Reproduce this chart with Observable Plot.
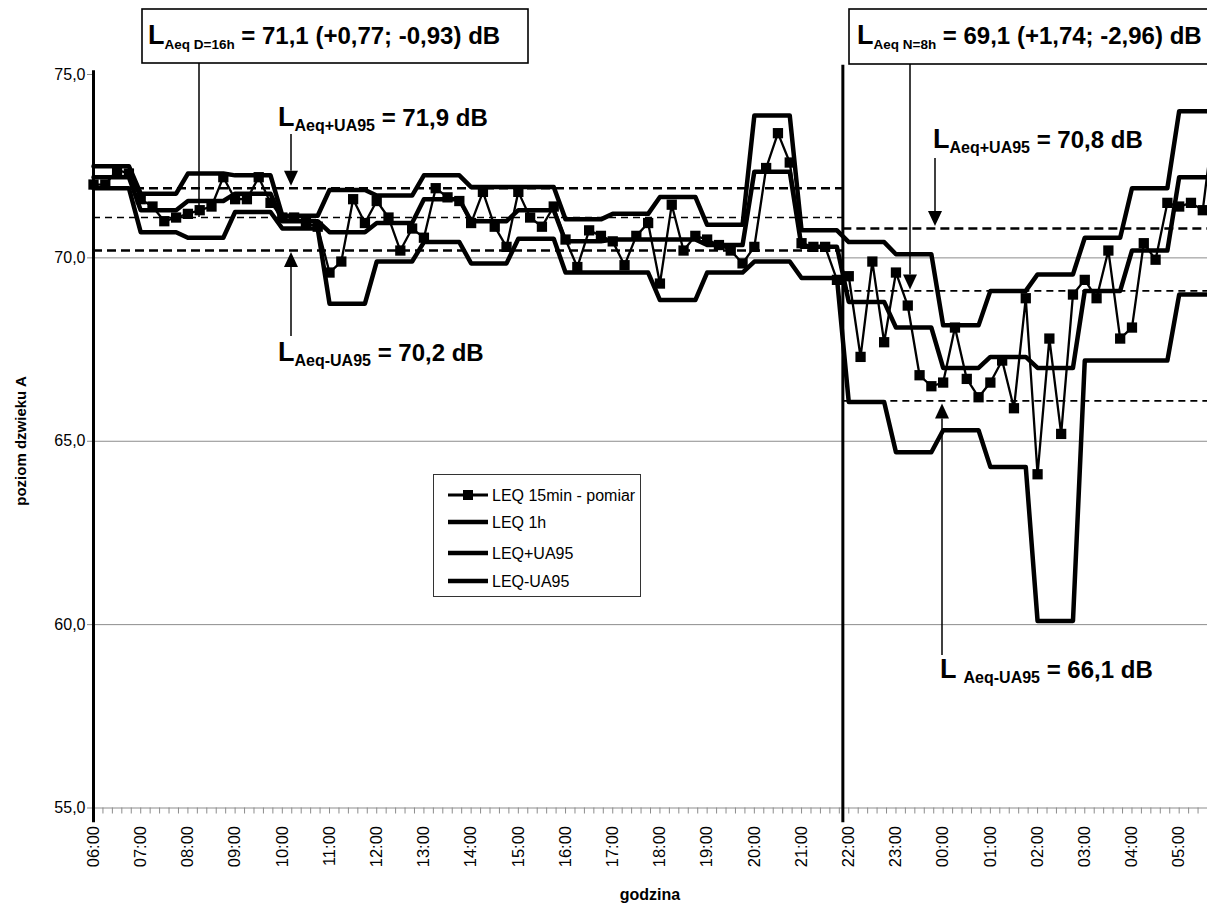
<!DOCTYPE html>
<html>
<head>
<meta charset="utf-8">
<script src="https://cdn.jsdelivr.net/npm/d3@7"></script>
<script src="https://cdn.jsdelivr.net/npm/@observablehq/plot@0.6"></script>
<style>
html, body { margin: 0; padding: 0; background: #fff; overflow: hidden; }
#wrap { width: 1207px; height: 906px; overflow: hidden; }
#wrap svg { display: block; overflow: hidden; }
</style>
</head>
<body>
<div id="wrap"></div>
<script>
// ---------- DATA ----------
// Hour labels of the category axis, starting at 06:00 (hour index 0)
const hourLabels = ["06:00","07:00","08:00","09:00","10:00","11:00","12:00","13:00",
  "14:00","15:00","16:00","17:00","18:00","19:00","20:00","21:00","22:00","23:00",
  "00:00","01:00","02:00","03:00","04:00","05:00"];

// LEQ 15min - pomiar : one value every 15 minutes from 06:00 to 05:45
const leq15 = [
  72.0, 72.0, 72.4, 72.3,    // 06
  71.6, 71.4, 71.0, 71.1,    // 07
  71.2, 71.3, 71.4, 72.2,    // 08
  71.6, 71.6, 72.2, 71.5,    // 09
  71.1, 71.1, 70.95, 70.85,  // 10
  69.6, 69.9, 71.6, 70.95,   // 11
  71.55, 71.1, 70.2, 70.8,   // 12
  70.55, 71.9, 71.65, 71.55, // 13
  70.95, 71.8, 70.85, 70.3,  // 14
  71.8, 71.1, 70.85, 71.4,   // 15
  70.5, 69.75, 70.75, 70.6,  // 16
  70.45, 69.8, 70.6, 70.95,  // 17
  69.3, 71.45, 70.2, 70.6,   // 18
  70.5, 70.35, 70.2, 69.85,  // 19
  70.3, 72.45, 73.4, 72.6,   // 20
  70.4, 70.3, 70.3, 69.4,    // 21
  69.5, 67.3, 69.9, 67.7,    // 22
  69.6, 68.7, 66.8, 66.5,    // 23
  66.6, 68.1, 66.7, 66.2,    // 00
  66.6, 67.2, 65.9, 68.9,    // 01
  64.1, 67.8, 65.2, 69.0,    // 02
  69.4, 68.9, 70.2, 67.8,    // 03
  68.1, 70.4, 69.95, 71.5,   // 04
  71.4, 71.5, 71.3, 73.9     // 05
];

// Hourly series (one value per hour, 06:00 ... 05:00)
const leq1h = [72.2, 71.3, 71.55, 71.75, 71.0, 70.7, 70.95, 71.6, 71.0, 71.3, 70.45, 70.5,
  70.5, 70.35, 72.35, 70.3, 68.8, 68.1, 67.0, 67.3, 67.0, 69.1, 70.2, 72.2];
const leqPlusUA95 = [72.5, 71.75, 72.3, 72.25, 71.15, 71.85, 71.7, 72.25, 71.93, 71.93, 71.05, 71.2,
  71.66, 70.9, 73.88, 70.75, 70.43, 70.1, 68.16, 69.1, 69.55, 70.55, 71.9, 74.0];
const leqMinusUA95 = [71.9, 70.7, 70.55, 71.25, 70.8, 68.75, 69.9, 70.43, 69.85, 70.52, 69.6, 69.6,
  68.85, 69.6, 69.9, 69.45, 66.07, 64.7, 65.3, 64.3, 60.1, 67.2, 67.2, 69.0];

// Period levels (dashed reference lines): [L+UA95, LAeq, L-UA95]
const dayLevels = [71.9, 71.1, 70.2];     // 06:00-22:00
const nightLevels = [70.8, 69.1, 66.1];   // 22:00-06:00
const nightStart = 15.875;                // hours after 06:00: category boundary just before 22:00

// Axis
const yTickValues = [75, 70, 65, 60, 55];
const yTickLabels = ["75,0", "70,0", "65,0", "60,0", "55,0"];
const gridValues = [70, 65, 60];
const visibleHours = 23.6;                // the original chart is cut at the right edge

// ---------- TABLES ----------
const pts15 = leq15.map((v, i) => ({t: i * 0.25, v}));
const stepRows = arr => arr.flatMap((v, h) => [0, 1, 2, 3].map(k => ({t: h + k * 0.25, v})));
const hourTicks = hourLabels.map((_, i) => i);
const minorTicks = d3.range(0, visibleHours + 0.001, 0.2);

const font = "'Liberation Sans', Arial, sans-serif";

const chart = Plot.plot({
  width: 1207,
  height: 906,
  marginLeft: 93,
  marginRight: 0,
  marginTop: 74,
  marginBottom: 98.5,
  x: {domain: [0, visibleHours], axis: null},
  y: {domain: [55, 75], axis: null},
  style: {fontFamily: font, background: "white", overflow: "hidden", color: "black"},
  marks: [
    Plot.ruleY(gridValues, {stroke: "#8c8c8c", strokeWidth: 1}),
    Plot.ruleY([55], {stroke: "#8c8c8c", strokeWidth: 1}),
    Plot.ruleX(minorTicks, {x: d => d, y1: 55, y2: 55, insetBottom: -6, stroke: "#8c8c8c"}),
    Plot.ruleY(yTickValues, {y: d => d, x1: 0, x2: 0, insetLeft: -6, stroke: "#8c8c8c"}),
    Plot.text(yTickValues, {x: 0, y: d => d, text: (d, i) => yTickLabels[i], textAnchor: "end",
      dx: -8, fontSize: 16, fill: "black"}),
    Plot.text(hourTicks, {x: d => d, y: 55, text: (d, i) => hourLabels[i], rotate: -90,
      textAnchor: "end", dy: 18, fontSize: 16.5, fill: "black"}),

    // dashed period levels
    Plot.ruleY([dayLevels[0], dayLevels[2]], {y: d => d, x1: 0, x2: nightStart, stroke: "black",
      strokeWidth: 2.6, strokeDasharray: "9,5"}),
    Plot.ruleY([dayLevels[1]], {y: d => d, x1: 0, x2: nightStart, stroke: "black",
      strokeWidth: 1.6, strokeDasharray: "7,5"}),
    Plot.ruleY([nightLevels[0]], {y: d => d, x1: nightStart, x2: visibleHours, stroke: "black",
      strokeWidth: 2.6, strokeDasharray: "9,5"}),
    Plot.ruleY([nightLevels[1], nightLevels[2]], {y: d => d, x1: nightStart, x2: visibleHours,
      stroke: "black", strokeWidth: 1.6, strokeDasharray: "7,5"}),

    // axis lines (thick), day/night split
    Plot.ruleX([0], {x: d => d, y1: 54.6, y2: 75.1, stroke: "black", strokeWidth: 3}),
    Plot.ruleX([nightStart], {x: d => d, y1: 54.6, y2: 75.25, stroke: "black", strokeWidth: 3}),

    // hourly series
    Plot.line(stepRows(leqMinusUA95), {x: "t", y: "v", stroke: "black", strokeWidth: 4.5, strokeLinejoin: "round"}),
    Plot.line(stepRows(leqPlusUA95), {x: "t", y: "v", stroke: "black", strokeWidth: 4.5, strokeLinejoin: "round"}),
    Plot.line(stepRows(leq1h), {x: "t", y: "v", stroke: "black", strokeWidth: 4.5, strokeLinejoin: "round"}),

    // 15 min measurement
    Plot.line(pts15, {x: "t", y: "v", stroke: "black", strokeWidth: 2.3}),
    Plot.dot(pts15, {x: "t", y: "v", symbol: "square", r: 5.8, fill: "black", stroke: "none"})
  ]
});

document.getElementById("wrap").appendChild(chart);

// ---------- ANNOTATIONS ----------
const sy = chart.scale("y");
const svg = d3.select(chart);
const g = svg.append("g").attr("font-family", font).attr("fill", "black").attr("text-anchor", "start");

function rich(x, baseline, big, sub, rest, sizes) {
  const [sL, sS, sR, dd] = sizes || [27, 16, 24, 5];
  const t = g.append("text").attr("x", x).attr("y", baseline).attr("font-weight", "bold")
    .attr("text-anchor", "start");
  t.append("tspan").attr("font-size", sL).text(big);
  t.append("tspan").attr("font-size", sS).attr("dy", dd).text(sub);
  t.append("tspan").attr("font-size", sR).attr("dy", -dd).text(rest);
  return t;
}
function arrow(x, yStart, yTip) {
  const dir = yTip > yStart ? 1 : -1;
  const h = 15, w = 7;
  g.append("line").attr("x1", x).attr("x2", x).attr("y1", yStart).attr("y2", yTip - dir * h)
    .attr("stroke", "black").attr("stroke-width", 1.5);
  g.append("path").attr("d", `M${x - w},${yTip - dir * h}L${x + w},${yTip - dir * h}L${x},${yTip}Z`)
    .attr("fill", "black");
}

// boxes
g.append("rect").attr("x", 142).attr("y", 9).attr("width", 386).attr("height", 54)
  .attr("fill", "white").attr("stroke", "black").attr("stroke-width", 1.6);
g.append("rect").attr("x", 849).attr("y", 9).attr("width", 400).attr("height", 55)
  .attr("fill", "white").attr("stroke", "black").attr("stroke-width", 1.6);
rich(148, 44, "L", "Aeq D=16h", " = 71,1 (+0,77; -0,93) dB", [27, 13.5, 24, 5]);
rich(857, 44, "L", "Aeq N=8h", " = 69,1 (+1,74; -2,96) dB", [27, 13.5, 24, 5]);

// connectors from boxes
g.append("line").attr("x1", 199).attr("x2", 199).attr("y1", 63).attr("y2", sy.apply(dayLevels[1]))
  .attr("stroke", "black").attr("stroke-width", 1.5);
arrow(910, 64, sy.apply(nightLevels[1]) - 1);

// level labels + arrows
rich(278, 126, "L", "Aeq+UA95", " = 71,9 dB");
arrow(291, 134, sy.apply(dayLevels[0]) - 2);
rich(278, 361, "L", "Aeq-UA95", " = 70,2 dB");
arrow(291, 336, sy.apply(dayLevels[2]) + 2);
rich(933, 148, "L", "Aeq+UA95", " = 70,8 dB");
arrow(935, 158, sy.apply(nightLevels[0]) - 2);
rich(940, 678, "L ", "Aeq-UA95", " = 66,1 dB");
arrow(942, 655, sy.apply(nightLevels[2]) + 3);

// axis titles
g.append("text").attr("x", 650).attr("y", 900).attr("text-anchor", "middle")
  .attr("font-weight", "bold").attr("font-size", 16).text("godzina");
g.append("text").attr("transform", "translate(26,441) rotate(-90)").attr("text-anchor", "middle")
  .attr("font-weight", "bold").attr("font-size", 15).text("poziom dzwieku A");

// legend
const lg = g.append("g");
lg.append("rect").attr("x", 433.5).attr("y", 474.5).attr("width", 207).attr("height", 122)
  .attr("fill", "white").attr("stroke", "#333").attr("stroke-width", 1);
const legendNames = ["LEQ 15min - pomiar", "LEQ 1h", "LEQ+UA95", "LEQ-UA95"];
const legendRows = [495, 522, 553, 581];
legendNames.forEach((name, i) => {
  const y = legendRows[i];
  lg.append("line").attr("x1", 448).attr("x2", 488).attr("y1", y).attr("y2", y)
    .attr("stroke", "black").attr("stroke-width", i === 0 ? 3 : 4.5);
  if (i === 0) lg.append("rect").attr("x", 463).attr("y", y - 5).attr("width", 10).attr("height", 10).attr("fill", "black");
  lg.append("text").attr("x", 492).attr("y", y).attr("dy", "0.35em").attr("font-size", 16)
    .attr("text-anchor", "start").text(name);
});
</script>
</body>
</html>
